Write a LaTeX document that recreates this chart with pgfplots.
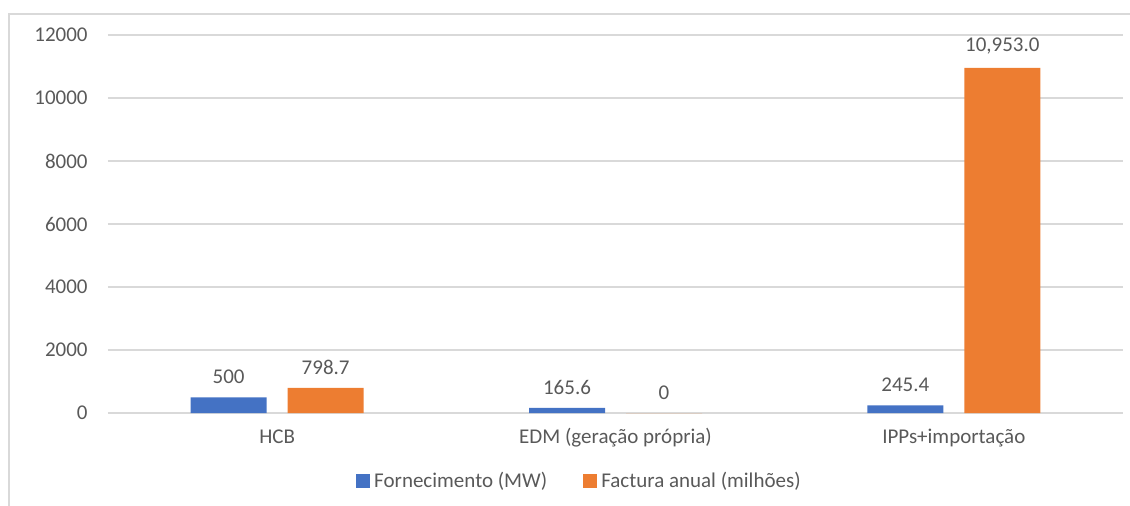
\documentclass[border=0pt]{standalone}
\usepackage{fontspec}
\setmainfont{Carlito}
\usepackage{pgfplots}
\pgfplotsset{compat=1.18}
\definecolor{cblue}{HTML}{4472C4}
\definecolor{corange}{HTML}{ED7D31}
\definecolor{tgray}{HTML}{595959}
\definecolor{ggray}{HTML}{D9D9D9}
\pgfplotsset{sqlegend/.style={legend image code/.code={\fill[##1] (0pt,-3.5pt) rectangle (7pt,3.5pt);}}}
\begin{document}
\begin{tikzpicture}[font=\fontsize{10.5}{12.6}\selectfont]
\path[use as bounding box] (0,0) rectangle (565pt,252.5pt);
\draw[ggray, line width=0.75pt] (4.5pt,-5pt) -- (4.5pt,245.5pt) -- (570pt,245.5pt);
\begin{axis}[
  at={(54pt,46pt)}, anchor=south west,
  scale only axis, width=507.5pt, height=189pt,
  xmin=-0.5, xmax=2.5, ymin=0, ymax=12000,
  ytick={0,2000,...,12000},
  xtick={0,1,2},
  xticklabels={HCB, EDM (geração própria), IPPs+importação},
  axis line style={draw=none},
  major tick length=0pt,
  ymajorgrids, grid style={ggray, line width=0.6pt},
  ybar=10.5pt, bar width=38pt,
  tick label style={text=tgray, font=\fontsize{10.5}{12.6}\selectfont},
  yticklabel style={anchor=east, inner sep=0pt, xshift=-10pt, /pgf/number format/1000 sep={}},
  xticklabel style={anchor=base, inner sep=0pt, yshift=-15pt},
  /pgf/number format/assume math mode=true,
  scaled y ticks=false,
  point meta=explicit symbolic,
  nodes near coords={\pgfplotspointmeta},
  nodes near coords style={text=tgray, anchor=south, inner sep=0pt, yshift=6.5pt, font=\fontsize{10.5}{12.6}\selectfont},
  legend style={at={(0.4655,-0.18)}, anchor=center, draw=none, fill=none,
    legend columns=2, text=tgray, font=\fontsize{10.5}{12.6}\selectfont,
    /tikz/every even column/.append style={column sep=16pt},
    cells={anchor=west}, inner sep=0pt},
]
\addplot[fill=cblue, draw=none, sqlegend] coordinates {(0,500) [500] (1,165.6) [165.6] (2,245.4) [245.4]};
\addlegendentry{Fornecimento (MW)}
\addplot[fill=corange, draw=none, sqlegend] coordinates {(0,798.7) [798.7] (1,0) [0] (2,10953) [{10,953.0}]};
\addlegendentry{Factura anual (milhões)}
\end{axis}
\end{tikzpicture}
\end{document}
